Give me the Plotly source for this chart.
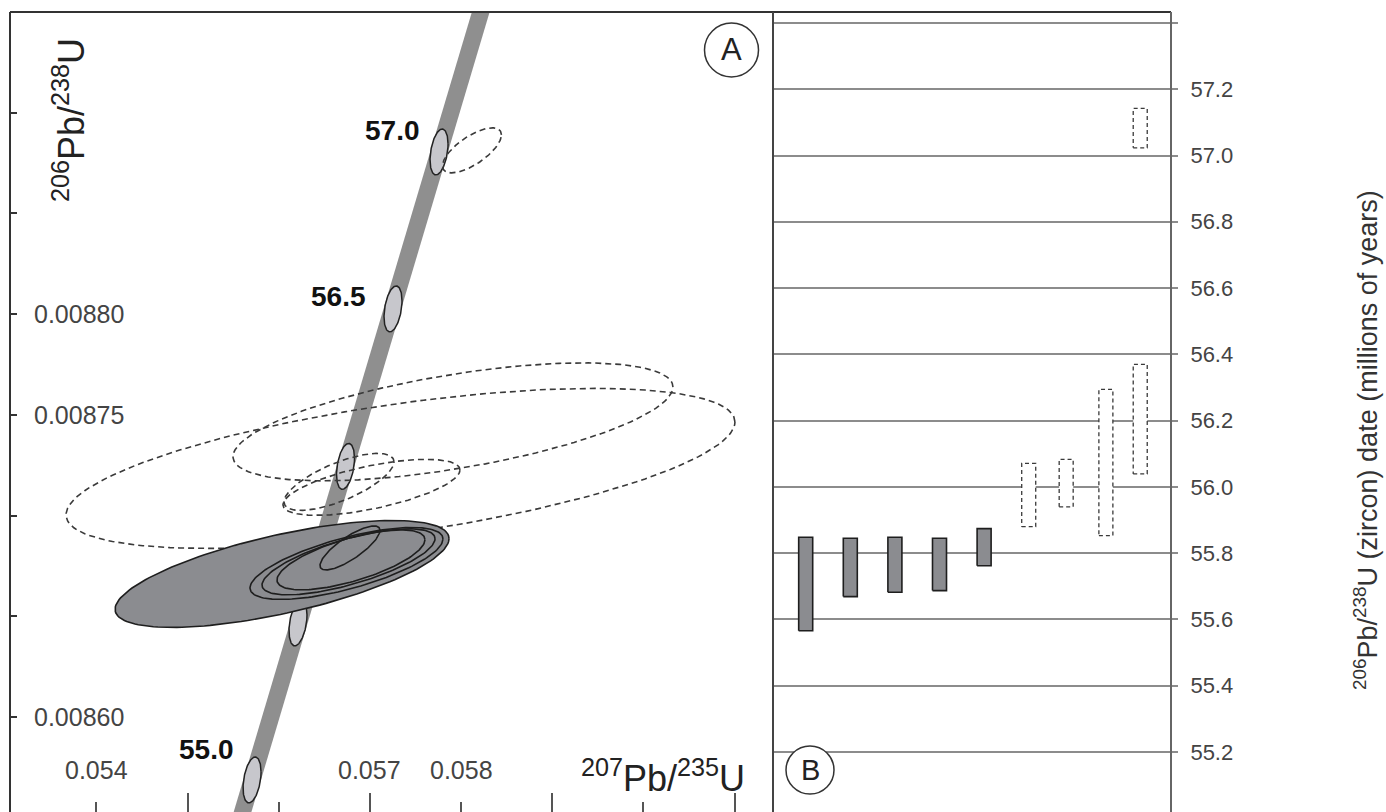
import numpy as np
import plotly.graph_objects as go

W, H = 1386, 812

# ---------------- Panel A: concordia diagram ----------------
# concordia band (207Pb/235U vs 206Pb/238U), running past both frame edges
concordia_x = [0.055503, 0.055708, 0.056212, 0.056733, 0.057254, 0.057759, 0.058375]
concordia_y = [0.0085375, 0.0085687, 0.0086467, 0.0087244, 0.0088026, 0.0088805, 0.0089741]

# age ticks on the concordia (Ma) with their decay-constant ellipses
marker_age = [55.0, 55.5, 56.0, 56.5, 57.0]
marker_x = [0.055708, 0.056212, 0.056733, 0.057254, 0.057759]
marker_y = [0.0085687, 0.0086467, 0.0087244, 0.0088026, 0.0088805]
marker_sx = 0.0000987
marker_sy = 0.0000114
marker_rho = 0.35
labelled_ages = [55.0, 56.5, 57.0]

# zircon analyses used in the weighted mean (solid ellipses)
solid_x = [0.056037, 0.056744, 0.056766, 0.056793, 0.056782]
solid_y = [0.0086710, 0.0086762, 0.0086770, 0.0086780, 0.0086839]
solid_sx = [0.0018316, 0.0010584, 0.0009487, 0.0008116, 0.000329]
solid_sy = [0.00002656, 0.00001787, 0.00001639, 0.00001490, 0.00001092]
solid_rho = [0.66, 0.68, 0.70, 0.67, 0.80]

# excluded analyses (dashed ellipses)
dashed_x = [0.057336, 0.057912, 0.057018, 0.056662, 0.058120]
dashed_y = [0.0087234, 0.0087465, 0.0087140, 0.0087167, 0.0088813]
dashed_sx = [0.0036686, 0.0024128, 0.0009706, 0.0006032, 0.0003235]
dashed_sy = [0.00003972, 0.00002929, 0.00001390, 0.00001415, 0.00001117]
dashed_rho = [0.58, 0.59, 0.62, 0.70, 0.69]

x_tick_labels = [0.054, 0.057, 0.058]
y_tick_labels = [0.00880, 0.00875, 0.00860]

# ---------------- Panel B: 206Pb/238U dates ----------------
date_slot = [1, 2, 3, 4, 5, 6, 6.84, 7.73, 8.5, 8.5]
date_lo = [55.566, 55.669, 55.682, 55.687, 55.762, 55.880, 55.940, 55.853, 56.039, 57.023]
date_hi = [55.848, 55.845, 55.848, 55.845, 55.874, 56.071, 56.083, 56.294, 56.370, 57.142]
date_used = [True, True, True, True, True, False, False, False, False, False]
date_ticks = [55.2, 55.4, 55.6, 55.8, 56.0, 56.2, 56.4, 56.6, 56.8, 57.0, 57.2, 57.4]

SANS = "Liberation Sans, Arial, Helvetica, sans-serif"
BAND = "#8f8f8f"
FILL = "#8b8c90"


def ellipse(cx, cy, sx, sy, rho, n=160):
    t = np.linspace(0, 2 * np.pi, n)
    x = cx + sx * np.cos(t)
    y = cy + sy * (rho * np.cos(t) + np.sqrt(1 - rho ** 2) * np.sin(t))
    return x, y


def px(v):  # horizontal pixel -> paper
    return v / W


def py(v):  # vertical pixel (from top) -> paper
    return 1 - v / H


fig = go.Figure()

# concordia band
fig.add_trace(go.Scatter(x=concordia_x, y=concordia_y, mode="lines",
                         line=dict(color=BAND, width=17), xaxis="x", yaxis="y",
                         hoverinfo="skip"))

# concordia age ellipses
for mx, my in zip(marker_x, marker_y):
    ex, ey = ellipse(mx, my, marker_sx, marker_sy, marker_rho)
    fig.add_trace(go.Scatter(x=ex, y=ey, mode="lines", fill="toself",
                             fillcolor="#c7c7cc", line=dict(color="#222", width=1.5),
                             xaxis="x", yaxis="y", hoverinfo="skip"))

# excluded analyses
for cx, cy, sx, sy, r in zip(dashed_x, dashed_y, dashed_sx, dashed_sy, dashed_rho):
    ex, ey = ellipse(cx, cy, sx, sy, r)
    fig.add_trace(go.Scatter(x=ex, y=ey, mode="lines",
                             line=dict(color="#3a3a3a", width=1.6, dash="6px,4px"),
                             xaxis="x", yaxis="y", hoverinfo="skip"))

# analyses in the mean: the largest one filled, the rest outlined on top
for i, (cx, cy, sx, sy, r) in enumerate(zip(solid_x, solid_y, solid_sx, solid_sy, solid_rho)):
    ex, ey = ellipse(cx, cy, sx, sy, r)
    fig.add_trace(go.Scatter(x=ex, y=ey, mode="lines",
                             fill="toself" if i == 0 else None,
                             fillcolor=FILL,
                             line=dict(color="#1e1e1e", width=1.6),
                             xaxis="x", yaxis="y", hoverinfo="skip"))

# panel B date bars
half = 0.157
for s, lo, hi, used in zip(date_slot, date_lo, date_hi, date_used):
    bx = [s - half, s + half, s + half, s - half, s - half]
    by = [lo, lo, hi, hi, lo]
    if used:
        line = dict(color="#1e1e1e", width=1.6)
        fc = FILL
    else:
        line = dict(color="#3a3a3a", width=1.3, dash="4px,3px")
        fc = "white"
    fig.add_trace(go.Scatter(x=bx, y=by, mode="lines", fill="toself", fillcolor=fc,
                             line=line, xaxis="x2", yaxis="y2", hoverinfo="skip"))

top_dom = py(12)
fig.update_layout(
    width=W, height=H, margin=dict(l=0, r=0, t=0, b=0),
    paper_bgcolor="white", plot_bgcolor="rgba(0,0,0,0)", showlegend=False,
    xaxis=dict(domain=[px(10), px(773)], range=[0.053053, 0.061422],
               showgrid=False, zeroline=False, showline=False, showticklabels=False,
               ticks="inside", tick0=0.055, dtick=0.002, ticklen=19, tickwidth=2,
               tickcolor="#555",
               minor=dict(ticks="inside", tick0=0.054, dtick=0.001, ticklen=10,
                          tickwidth=2, tickcolor="#555", showgrid=False),
               anchor="y"),
    yaxis=dict(domain=[0, top_dom], range=[0.0085528, 0.0089500],
               showgrid=False, zeroline=False, showline=False, showticklabels=False,
               ticks="inside", tick0=0.0086, dtick=0.00005, ticklen=7, tickwidth=2,
               tickcolor="#333", anchor="x"),
    xaxis2=dict(domain=[px(773), px(1171)], range=[0.267, 9.19], visible=False,
                anchor="y2"),
    yaxis2=dict(domain=[0, top_dom], range=[55.019, 57.433], anchor="x2", side="right",
                tickvals=date_ticks,
                ticktext=[f"{v:.1f}" if v < 57.3 else "" for v in date_ticks],
                showgrid=True, gridcolor="#8c8c8c", gridwidth=1.5,
                ticks="outside", ticklen=6, tickwidth=1.5, tickcolor="#8c8c8c",
                ticklabelstandoff=8,
                tickfont=dict(family=SANS, size=22, color="#444"),
                zeroline=False, showline=False),
)

# frame
frame = dict(type="line", xref="paper", yref="paper", layer="above")
fig.add_shape(**frame, x0=px(10), x1=px(1171), y0=py(12), y1=py(12),
              line=dict(color="#333", width=2))
fig.add_shape(**frame, x0=px(10), x1=px(10), y0=0, y1=py(12),
              line=dict(color="#333", width=2))
fig.add_shape(**frame, x0=px(773), x1=px(773), y0=0, y1=py(12),
              line=dict(color="#444", width=2))
fig.add_shape(**frame, x0=px(1171), x1=px(1171), y0=0, y1=py(12),
              line=dict(color="#666", width=2))

# panel letters
fig.add_shape(type="circle", xref="paper", yref="paper", x0=px(704.5), x1=px(758.5),
              y0=py(77), y1=py(23), line=dict(color="#333", width=1.5), fillcolor="white")
fig.add_shape(type="circle", xref="paper", yref="paper", x0=px(786), x1=px(834),
              y0=py(794), y1=py(746), line=dict(color="#333", width=1.5),
              fillcolor="white")
ann = []
ann.append(dict(text="A", x=px(731.5), y=py(50), xref="paper", yref="paper",
                xanchor="center", yanchor="middle",
                showarrow=False, font=dict(family=SANS, size=31, color="#222")))
ann.append(dict(text="B", x=px(810), y=py(770), xref="paper", yref="paper",
                xanchor="center", yanchor="middle",
                showarrow=False, font=dict(family=SANS, size=29, color="#222")))

# panel A tick labels
for v in y_tick_labels:
    ann.append(dict(text=f"{v:.5f}", x=px(32), y=v, xref="paper", yref="y",
                    xanchor="left", yanchor="middle", showarrow=False,
                    font=dict(family=SANS, size=25, color="#444")))
for v in x_tick_labels:
    ann.append(dict(text=f"{v:.3f}", x=v, y=py(770), xref="x", yref="paper",
                    xanchor="center", yanchor="middle", showarrow=False,
                    font=dict(family=SANS, size=25, color="#444")))

# panel A axis titles
ann.append(dict(text="<sup>207</sup>Pb/<sup>235</sup>U", x=px(663), y=py(776),
                xref="paper", yref="paper", xanchor="center", yanchor="middle",
                showarrow=False, font=dict(family=SANS, size=36, color="#222")))
ann.append(dict(text="<sup>206</sup>Pb/<sup>238</sup>U", x=px(69), y=py(120),
                xref="paper", yref="paper", xanchor="center", yanchor="middle",
                showarrow=False, textangle=-90,
                font=dict(family=SANS, size=36, color="#222")))

# concordia age labels
age_shift = {55.0: (-16, 30), 56.5: (-25, 12), 57.0: (-17, 21)}
for a, mx, my in zip(marker_age, marker_x, marker_y):
    if a in labelled_ages:
        dx, dy = age_shift[a]
        ann.append(dict(text=f"<b>{a:.1f}</b>", x=mx, y=my, xref="x", yref="y",
                        xanchor="right", yanchor="middle", xshift=dx, yshift=dy,
                        showarrow=False,
                        font=dict(family=SANS, size=28, color="#111")))

# panel B axis title
ann.append(dict(text="<sup>206</sup>Pb/<sup>238</sup>U (zircon) date (millions of years)",
                x=px(1366), y=py(440), xref="paper", yref="paper", showarrow=False,
                xanchor="center", yanchor="middle",
                textangle=-90, font=dict(family=SANS, size=27, color="#333")))

fig.update_layout(annotations=ann)
fig.write_html("out.html")
